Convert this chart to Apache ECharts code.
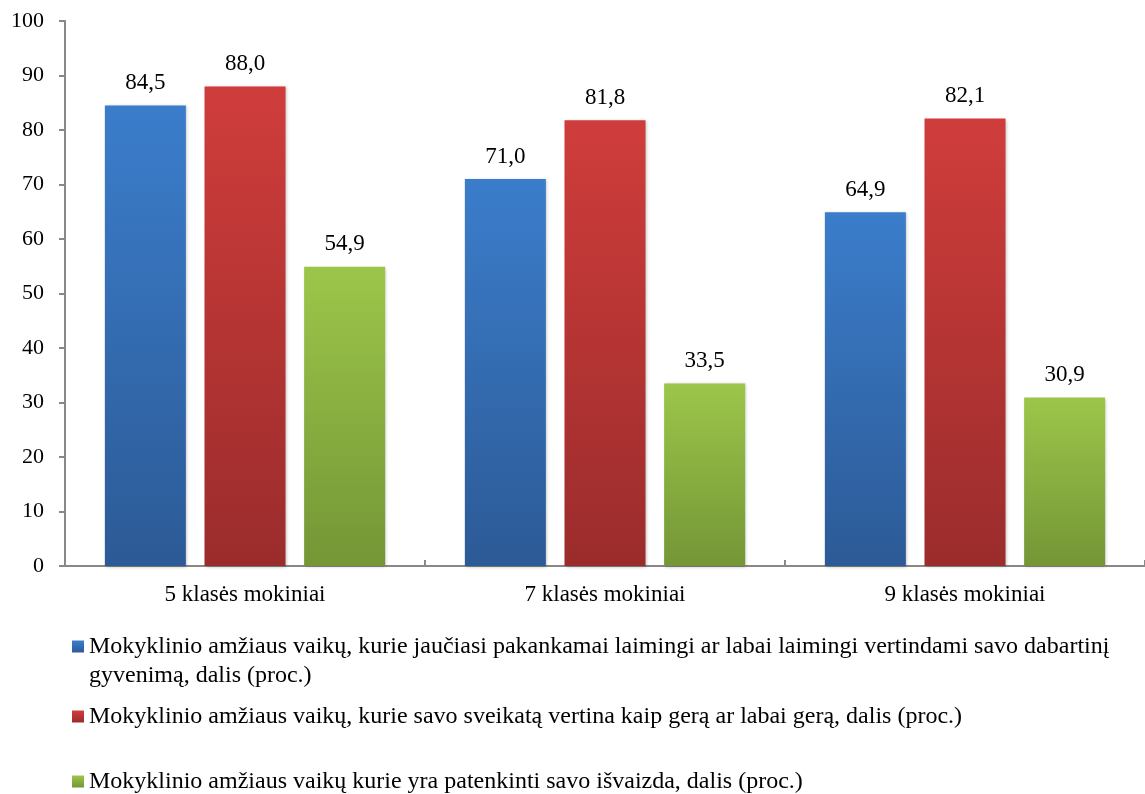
<!DOCTYPE html>
<html>
<head>
<meta charset="utf-8">
<script src="https://cdn.jsdelivr.net/npm/echarts@6/dist/echarts.min.js"></script>
<style>
  html, body { margin: 0; padding: 0; background: #fff; }
  #chart { width: 1145px; height: 794px; }
</style>
</head>
<body>
<div id="chart"></div>
<script>
// Categories (school grades) and the three survey shares, in percent
const categories = ['5 klasės mokiniai', '7 klasės mokiniai', '9 klasės mokiniai'];
const seriesNames = [
  'Mokyklinio amžiaus vaikų, kurie jaučiasi pakankamai laimingi ar labai laimingi vertindami savo dabartinį gyvenimą, dalis (proc.)',
  'Mokyklinio amžiaus vaikų, kurie savo sveikatą vertina kaip gerą ar labai gerą, dalis (proc.)',
  'Mokyklinio amžiaus vaikų kurie yra patenkinti savo išvaizda, dalis (proc.)'
];
const happyValues = [84.5, 71.0, 64.9];
const healthValues = [88.0, 81.8, 82.1];
const appearanceValues = [54.9, 33.5, 30.9];
const yTicks = [0, 10, 20, 30, 40, 50, 60, 70, 80, 90, 100];

const FONT = '"Liberation Serif", "Times New Roman", serif';

function grad(top, bottom) {
  return new echarts.graphic.LinearGradient(0, 0, 0, 1, [
    { offset: 0, color: top },
    { offset: 1, color: bottom }
  ]);
}

const palette = [
  { top: '#3b7dcb', bottom: '#2c5a96' },
  { top: '#cf3d3b', bottom: '#9b2c2c' },
  { top: '#9cc64a', bottom: '#749636' }
];
const valueSets = [happyValues, healthValues, appearanceValues];

const series = valueSets.map((vals, i) => ({
  name: seriesNames[i],
  type: 'bar',
  data: vals,
  barWidth: 81,
  barGap: '23%',
  itemStyle: {
    color: grad(palette[i].top, palette[i].bottom),
    shadowBlur: 3,
    shadowColor: 'rgba(0,0,0,0.25)',
    shadowOffsetX: 1,
    shadowOffsetY: 1
  },
  label: {
    show: true,
    position: 'top',
    distance: 11,
    fontFamily: FONT,
    fontSize: 23,
    color: '#000',
    formatter: p => p.value.toFixed(1).replace('.', ',')
  }
}));

const legendText = {
  fontFamily: FONT,
  fontSize: 24,
  color: '#000',
  lineHeight: 29
};

function legendEntry(i, top, extra) {
  return Object.assign({
    orient: 'vertical',
    left: 72,
    top: top,
    padding: 0,
    itemWidth: 12,
    itemHeight: 12,
    icon: 'rect',
    selectedMode: false,
    data: [{ name: seriesNames[i], itemStyle: { color: grad(palette[i].top, palette[i].bottom) } }],
    textStyle: legendText
  }, extra || {});
}

const option = {
  backgroundColor: '#fff',
  animation: false,
  legend: [
    // the long entry wraps after "dabartinį"; a leading blank line keeps
    // its marker beside the first line
    legendEntry(0, 603, {
      formatter: name => '\n' + name.replace(' gyvenimą', '\ngyvenimą')
    }),
    legendEntry(1, 702),
    legendEntry(2, 767)
  ],
  grid: { left: 65, right: 0, top: 21, bottom: 228, containLabel: false },
  xAxis: {
    type: 'category',
    data: categories,
    axisLine: { lineStyle: { color: '#888', width: 2 } },
    axisTick: { show: true, inside: true, length: 6, lineStyle: { color: '#888', width: 2 } },
    axisLabel: { fontFamily: FONT, fontSize: 23, color: '#000', margin: 17 }
  },
  yAxis: {
    type: 'value',
    min: yTicks[0],
    max: yTicks[yTicks.length - 1],
    interval: 10,
    splitLine: { show: false },
    axisLine: { show: true, lineStyle: { color: '#888', width: 2 } },
    axisTick: { show: true, length: 6, lineStyle: { color: '#888', width: 2 } },
    axisLabel: { fontFamily: FONT, fontSize: 22, color: '#000', margin: 21 }
  },
  series: series
};

const chart = echarts.init(document.getElementById('chart'), null, { renderer: 'canvas' });
chart.setOption(option);
</script>
</body>
</html>
